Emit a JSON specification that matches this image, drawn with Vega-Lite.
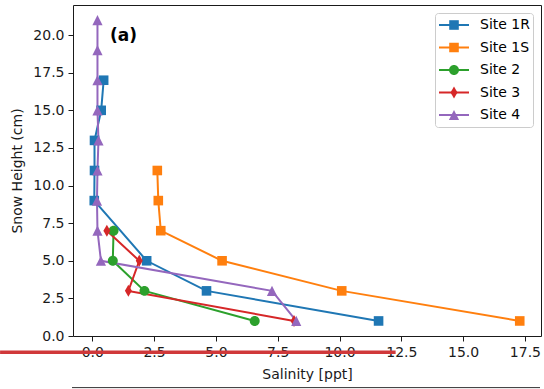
{
  "$schema": "https://vega.github.io/schema/vega-lite/v6.json",
  "width": 468,
  "height": 331,
  "autosize": {"type": "none"},
  "padding": {"left": 73, "top": 5, "right": 3, "bottom": 53},
  "config": {
    "font": "DejaVu Sans",
    "view": {"stroke": "#1a1a1a", "strokeWidth": 1},
    "axis": {
      "grid": false,
      "domain": false,
      "tickColor": "#1a1a1a",
      "tickSize": 5,
      "tickWidth": 1,
      "labelFontSize": 14,
      "labelColor": "#1a1a1a",
      "titleFontSize": 14,
      "titleFontWeight": "normal",
      "titleColor": "#1a1a1a"
    }
  },
  "datasets": {
    "profiles": [
      {"site": "Site 1R", "height": 17, "salinity": 0.46},
      {"site": "Site 1R", "height": 15, "salinity": 0.36},
      {"site": "Site 1R", "height": 13, "salinity": 0.09},
      {"site": "Site 1R", "height": 11, "salinity": 0.09},
      {"site": "Site 1R", "height": 9, "salinity": 0.08},
      {"site": "Site 1R", "height": 5, "salinity": 2.2},
      {"site": "Site 1R", "height": 3, "salinity": 4.62},
      {"site": "Site 1R", "height": 1, "salinity": 11.58},
      {"site": "Site 1S", "height": 11, "salinity": 2.63},
      {"site": "Site 1S", "height": 9, "salinity": 2.67},
      {"site": "Site 1S", "height": 7, "salinity": 2.77},
      {"site": "Site 1S", "height": 5, "salinity": 5.25},
      {"site": "Site 1S", "height": 3, "salinity": 10.09},
      {"site": "Site 1S", "height": 1, "salinity": 17.29},
      {"site": "Site 2", "height": 7, "salinity": 0.86},
      {"site": "Site 2", "height": 5, "salinity": 0.83},
      {"site": "Site 2", "height": 3, "salinity": 2.11},
      {"site": "Site 2", "height": 1, "salinity": 6.57},
      {"site": "Site 3", "height": 7, "salinity": 0.59},
      {"site": "Site 3", "height": 5, "salinity": 1.9},
      {"site": "Site 3", "height": 3, "salinity": 1.46},
      {"site": "Site 3", "height": 1, "salinity": 8.16},
      {"site": "Site 4", "height": 21, "salinity": 0.21},
      {"site": "Site 4", "height": 19, "salinity": 0.21},
      {"site": "Site 4", "height": 17, "salinity": 0.21},
      {"site": "Site 4", "height": 15, "salinity": 0.21},
      {"site": "Site 4", "height": 13, "salinity": 0.25},
      {"site": "Site 4", "height": 11, "salinity": 0.21},
      {"site": "Site 4", "height": 9, "salinity": 0.19},
      {"site": "Site 4", "height": 7, "salinity": 0.21},
      {"site": "Site 4", "height": 5, "salinity": 0.35},
      {"site": "Site 4", "height": 3, "salinity": 7.27},
      {"site": "Site 4", "height": 1, "salinity": 8.25}
    ],
    "redline": [{"salinity": -3.73, "salinity2": 12.27, "height": -1.08}],
    "baseline": [{"salinity": -0.82, "salinity2": 18.11, "height": -3.43}],
    "panel": [{"label": "(a)", "salinity": 0.72, "height": 19.93}]
  },
  "layer": [
    {
      "data": {"name": "profiles"},
      "mark": {"type": "line", "strokeWidth": 2},
      "encoding": {
        "x": {
          "field": "salinity", "type": "quantitative",
          "scale": {"domain": [-0.78, 18.15], "nice": false, "zero": false},
          "axis": {"title": "Salinity [ppt]", "values": [0, 2.5, 5, 7.5, 10, 12.5, 15, 17.5], "format": ".1f", "labelPadding": 4, "titlePadding": 8}
        },
        "y": {
          "field": "height", "type": "quantitative",
          "scale": {"domain": [0, 22], "nice": false, "zero": false},
          "axis": {"title": "Snow Height (cm)", "values": [0, 2.5, 5, 7.5, 10, 12.5, 15, 17.5, 20], "format": ".1f", "labelPadding": 4, "titlePadding": 8}
        },
        "color": {
          "field": "site", "type": "nominal",
          "scale": {
            "domain": ["Site 1R", "Site 1S", "Site 2", "Site 3", "Site 4"],
            "range": ["#1f77b4", "#ff7f0e", "#2ca02c", "#d62728", "#9467bd"]
          },
          "legend": {
            "orient": "none", "legendX": 362, "legendY": 8, "title": null,
            "symbolType": "stroke", "symbolSize": 900, "symbolStrokeWidth": 2,
            "labelFontSize": 14, "labelColor": "black", "labelOffset": 10,
            "clipHeight": 18, "rowPadding": 4.5, "padding": 3,
            "strokeColor": "#cccccc", "fillColor": "rgba(255,255,255,0.8)", "cornerRadius": 3
          }
        },
        "order": {"field": "height", "type": "quantitative"}
      }
    },
    {
      "data": {"name": "profiles"},
      "mark": {"type": "point", "filled": true, "opacity": 1, "size": 144, "strokeWidth": 0},
      "encoding": {
        "x": {"field": "salinity", "type": "quantitative"},
        "y": {"field": "height", "type": "quantitative"},
        "fill": {
          "field": "site", "type": "nominal",
          "scale": {"range": ["#1f77b4", "#ff7f0e", "#2ca02c", "#d62728", "#9467bd"]},
          "legend": {
            "orient": "none", "legendX": 362, "legendY": 8, "title": null,
            "symbolSize": 144, "symbolStrokeWidth": 0, "symbolOffset": 9,
            "labelFontSize": 14, "labelExpr": "''",
            "clipHeight": 18, "rowPadding": 4.5, "padding": 3
          }
        },
        "shape": {
          "field": "site", "type": "nominal",
          "scale": {
            "range": [
              "M-0.8,-0.8H0.8V0.8H-0.8Z",
              "M-0.8,-0.8H0.8V0.8H-0.8Z",
              "M0.83,0A0.83,0.83 0 1,1 -0.83,0A0.83,0.83 0 1,1 0.83,0Z",
              "M0,-1L0.58,0L0,1L-0.58,0Z",
              "M0,-0.85L0.85,0.85L-0.85,0.85Z"
            ]
          },
          "legend": {
            "orient": "none", "legendX": 362, "legendY": 8, "title": null,
            "symbolSize": 144, "symbolStrokeWidth": 0, "symbolOffset": 9,
            "labelFontSize": 14, "labelExpr": "''",
            "clipHeight": 18, "rowPadding": 4.5, "padding": 3
          }
        }
      }
    },
    {
      "data": {"name": "redline"},
      "mark": {"type": "rule", "color": "#d0383a", "strokeWidth": 3.5, "clip": false},
      "encoding": {
        "x": {"field": "salinity", "type": "quantitative"},
        "x2": {"field": "salinity2"},
        "y": {"field": "height", "type": "quantitative"}
      }
    },
    {
      "data": {"name": "baseline"},
      "mark": {"type": "rule", "color": "#333333", "strokeWidth": 1, "clip": false},
      "encoding": {
        "x": {"field": "salinity", "type": "quantitative"},
        "x2": {"field": "salinity2"},
        "y": {"field": "height", "type": "quantitative"}
      }
    },
    {
      "data": {"name": "panel"},
      "mark": {"type": "text", "fontSize": 17, "fontWeight": "bold", "align": "left", "baseline": "middle", "color": "black"},
      "encoding": {
        "x": {"field": "salinity", "type": "quantitative"},
        "y": {"field": "height", "type": "quantitative"},
        "text": {"field": "label"}
      }
    }
  ]
}
